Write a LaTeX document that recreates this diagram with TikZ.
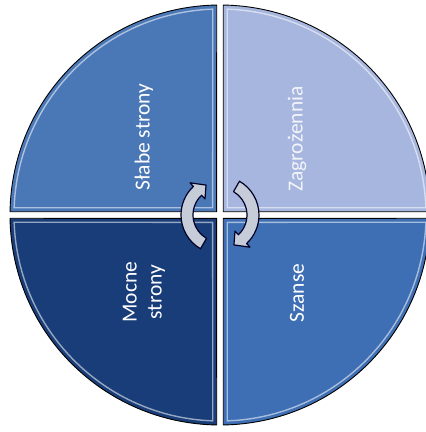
\documentclass[tikz,border=0pt]{standalone}
\usepackage{fontspec}
\setmainfont{Carlito}
\usetikzlibrary{calc}

\definecolor{slabe}{HTML}{4A77B6}
\definecolor{zagr}{HTML}{A7B6DE}
\definecolor{mocne}{HTML}{183D78}
\definecolor{szanse}{HTML}{3E6EB3}
\definecolor{strzalka}{HTML}{C6CDD9}

\begin{document}
\begin{tikzpicture}[x=1pt,y=1pt,
        cwiartka/.style={draw=black,line width=0.9pt},
        blask/.style={draw=white,line width=1.4pt,opacity=0.55},
        napis/.style={rotate=90,text=white,font=\fontsize{21.5}{25}\selectfont,align=center},
        strzalka/.style={fill=strzalka,draw=black!85!blue,line width=1.2pt,line join=round}]
        \useasboundingbox (-220,-217) rectangle (206,215);
        % cwiartki
        \draw[cwiartka,fill=slabe] (-3.3,3.3) -- (179.1:210) arc (179.1:90.9:210) -- cycle;
        \draw[blask] (-7.3,7.3) -- (177.97:206) arc (177.97:92.03:206) -- cycle;
        \draw[cwiartka,fill=zagr] (3.3,3.3) -- (0.9:210) arc (0.9:89.1:210) -- cycle;
        \draw[blask] (7.3,7.3) -- (2.03:206) arc (2.03:87.97:206) -- cycle;
        \draw[cwiartka,fill=mocne] (-3.3,-3.3) -- (180.9:210) arc (180.9:269.1:210) -- cycle;
        \draw[blask] (-7.3,-7.3) -- (182.03:206) arc (182.03:267.97:206) -- cycle;
        \draw[cwiartka,fill=szanse] (3.3,-3.3) -- (-0.9:210) arc (-0.9:-89.1:210) -- cycle;
        \draw[blask] (7.3,-7.3) -- (-2.03:206) arc (-2.03:-87.97:206) -- cycle;
        % napisy
        \node[napis] (slabe) at (-76,78) {Słabe strony};
        \node[napis,text=white!85!zagr] (zagrozenia) at (77,76) {Zagrożennia};
        \node[napis] (mocne) at (-76,-77) {Mocne\\strony};
        \node[napis] (szanse) at (77,-78) {Szanse};
        % strzalki
        \draw[strzalka] (240:39) arc (240:133:39) -- (133:44) -- (115:33) -- (133:22) -- (133:27) arc (133:240:27) -- cycle;
        \draw[strzalka] (60:39) arc (60:-47:39) -- (-47:44) -- (-65:33) -- (-47:22) -- (-47:27) arc (-47:60:27) -- cycle;
\end{tikzpicture}
\end{document}
